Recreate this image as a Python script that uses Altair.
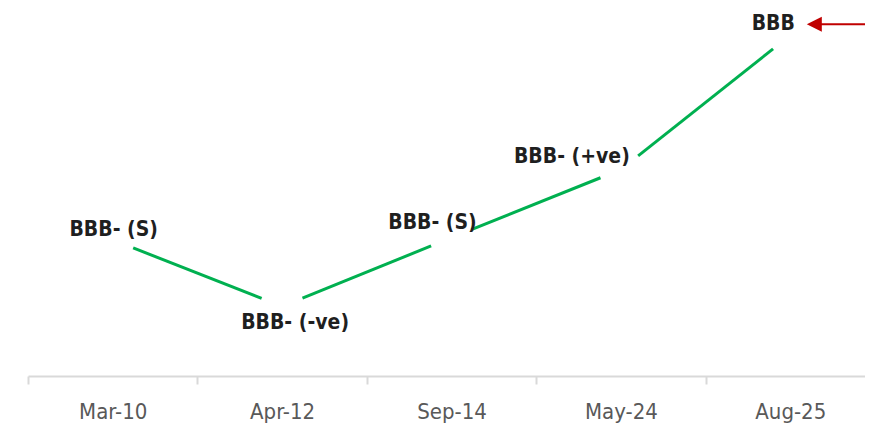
import math
import altair as alt
import pandas as pd

# ---- data ----
dates = ["Mar-10", "Apr-12", "Sep-14", "May-24", "Aug-25"]
ratings = ["BBB- (S)", "BBB- (-ve)", "BBB- (S)", "BBB- (+ve)", "BBB"]
level = [37.0, 18.9, 37.6, 56.1, 92.6]   # relative rating position (0-100)

# ---- layout / style ----
W, H = 847, 368
GAP = 22  # px gap left around each point along the line
FONT = "DejaVu Sans Condensed, Liberation Sans Narrow, sans-serif"
GREEN = "#00B050"
RED = "#C00000"
LABEL_OFFSETS = {0: (1, -10), 1: (13, 17), 2: (-19, -15), 3: (-49, -13), 4: (-17, -11)}

pts = pd.DataFrame({"idx": list(range(len(dates))), "date": dates,
                    "rating": ratings, "level": level})

ux = W / len(dates)
uy = H / 100.0
segs = []
for i in range(len(dates) - 1):
    v1, v2 = level[i], level[i + 1]
    L = math.hypot(ux, uy * (v2 - v1))
    f = GAP / L
    segs.append({"x": i + f, "x2": i + 1 - f,
                 "y": v1 + f * (v2 - v1), "y2": v2 - f * (v2 - v1)})
seg_df = pd.DataFrame(segs)

xq = alt.Scale(domain=[-0.5, len(dates) - 0.5], nice=False, zero=False)
ys = alt.Scale(domain=[0, 100], nice=False, zero=False)

axis_layer = alt.Chart(pts).mark_bar(opacity=0).encode(
    x=alt.X("date:N", sort=dates,
            scale=alt.Scale(type="band", paddingInner=0, paddingOuter=0),
            axis=alt.Axis(title=None, labelAngle=0, tickBand="extent",
                          labelFont=FONT, labelFontSize=22, labelColor="#595959",
                          labelPadding=17, tickSize=8, tickColor="#d9d9d9",
                          tickWidth=2, domainColor="#d9d9d9", domainWidth=2)),
    y=alt.Y("level:Q", scale=ys, axis=None),
)

line_layer = alt.Chart(seg_df).mark_rule(color=GREEN, strokeWidth=3, strokeCap="butt").encode(
    x=alt.X("x:Q", scale=xq, axis=None),
    x2="x2:Q",
    y=alt.Y("y:Q", scale=ys, axis=None),
    y2="y2:Q",
)

label_layers = []
for i, (dx, dy) in LABEL_OFFSETS.items():
    label_layers.append(
        alt.Chart(pts).transform_filter(alt.datum.idx == i).mark_text(
            font=FONT, fontSize=21, fontWeight="bold", color="#1f1f1f",
            align="center", baseline="middle", dx=dx, dy=dy
        ).encode(
            x=alt.X("idx:Q", scale=xq, axis=None),
            y=alt.Y("level:Q", scale=ys, axis=None),
            text="rating:N",
        )
    )

last = pts.tail(1)
arrow_line = alt.Chart(last).mark_rule(color=RED, strokeWidth=2, xOffset=24, x2Offset=83, yOffset=-11).encode(
    x=alt.X("idx:Q", scale=xq, axis=None),
    x2="idx:Q",
    y=alt.Y("level:Q", scale=ys, axis=None),
)
arrow_head = alt.Chart(last).mark_point(shape="M-1,0L1,-1L1,1Z", size=225, filled=True,
                                        opacity=1, color=RED, xOffset=24, yOffset=-11).encode(
    x=alt.X("idx:Q", scale=xq, axis=None),
    y=alt.Y("level:Q", scale=ys, axis=None),
)

chart = alt.layer(axis_layer, line_layer, *label_layers, arrow_line, arrow_head).resolve_scale(
    x="independent"
).properties(
    width=W, height=H,
    autosize=alt.AutoSizeParams(type="none"),
    padding={"left": 20, "top": 0, "right": -10, "bottom": 50},
    background="white",
).configure_view(stroke=None)

chart.save("out.html", embed_options={"renderer": "svg", "actions": False})
